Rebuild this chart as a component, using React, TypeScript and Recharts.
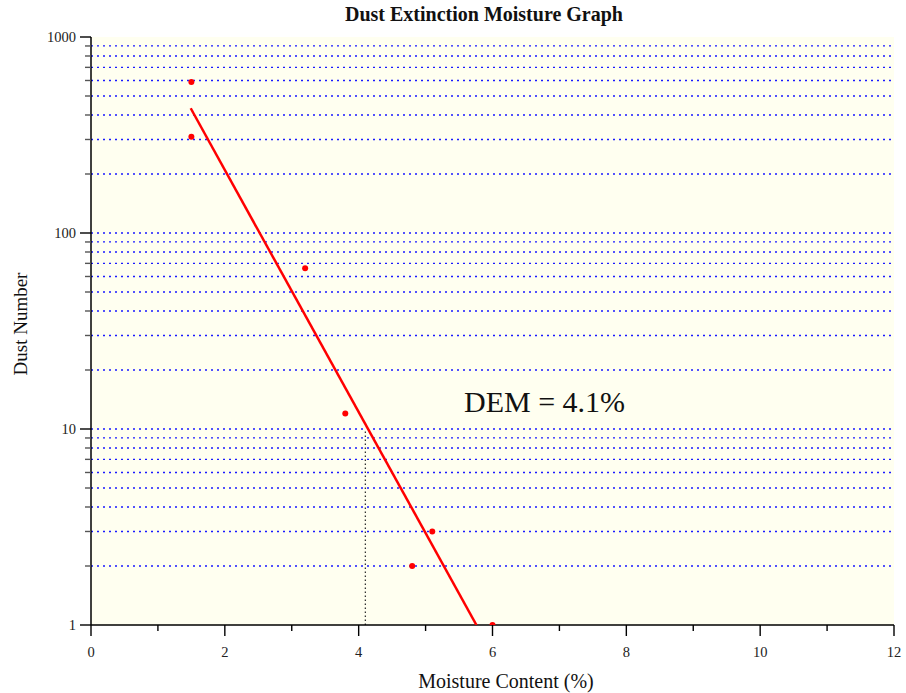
import React from 'react';
import {
  ScatterChart,
  Scatter,
  XAxis,
  YAxis,
  CartesianGrid,
  ReferenceLine,
} from 'recharts';

// ---- data ----
const moisture = [1.5, 1.5, 3.2, 3.8, 4.8, 5.1, 6.0];
const dustNumber = [590, 310, 66, 12, 2, 3, 1];
const fitMoisture = [1.49, 5.76];
const fitDust = [433, 1];
const demMoisture = 4.1;
const demDustRange = [1, 10];
const xTicks = [0, 1, 2, 3, 4, 5, 6, 7, 8, 9, 10, 11, 12];
const xMajorLabels = [0, 2, 4, 6, 8, 10, 12];
const yTicks = [
  1, 2, 3, 4, 5, 6, 7, 8, 9,
  10, 20, 30, 40, 50, 60, 70, 80, 90,
  100, 200, 300, 400, 500, 600, 700, 800, 900, 1000,
];
const yMajorLabels = [1, 10, 100, 1000];
const gridValues = yTicks.slice(1, yTicks.length - 1);

const points = moisture.map((m, i) => ({ x: m, y: dustNumber[i] }));
const fitLine = fitMoisture.map((m, i) => ({ x: m, y: fitDust[i] }));

const FONT = '"Liberation Serif", "Times New Roman", serif';
const MAJOR = 11;
const MINOR = 6;

const BottomTick = (props: any) => {
  const { x, y, payload } = props;
  const v = payload.value;
  const major = xMajorLabels.includes(v);
  const len = major ? MAJOR : MINOR;
  return (
    <g>
      <line x1={x} x2={x} y1={y} y2={y + len} stroke="#000" strokeWidth={1.4} />
      {major && (
        <text x={x} y={y + 32} textAnchor="middle" fontFamily={FONT} fontSize={14.5} fill="#222">
          {v}
        </text>
      )}
    </g>
  );
};

const TopTick = (props: any) => {
  const { x, y, payload } = props;
  const major = xMajorLabels.includes(payload.value);
  const len = major ? MAJOR - 1 : MINOR;
  return <line x1={x} x2={x} y1={y} y2={y - len} stroke="#000" strokeWidth={1.4} />;
};

const LeftTick = (props: any) => {
  const { x, y, payload } = props;
  const v = payload.value;
  const major = yMajorLabels.includes(v);
  const len = major ? MAJOR : MINOR;
  return (
    <g>
      <line x1={x} x2={x - len} y1={y} y2={y} stroke={major ? '#000' : '#555'} strokeWidth={1.4} />
      {major && (
        <text x={x - len - 4} y={y} dy="0.35em" textAnchor="end" fontFamily={FONT} fontSize={14.5} fill="#222">
          {v}
        </text>
      )}
    </g>
  );
};

const RightTick = (props: any) => {
  const { x, y, payload } = props;
  const major = yMajorLabels.includes(payload.value);
  const len = major ? MAJOR : MINOR;
  return <line x1={x} x2={x + len} y1={y} y2={y} stroke={major ? '#000' : '#555'} strokeWidth={1.4} />;
};

const NoShape = () => <g />;

export default function App() {
  return (
    <div style={{ position: 'absolute', left: 0, top: 0, width: 906, height: 693, background: '#fff' }}>
      <ScatterChart
        width={906}
        height={693}
        margin={{ top: 37, right: 12, bottom: 0, left: 0 }}
      >
        <CartesianGrid fill="#FFFFF0" horizontal={false} vertical={false} />
        {gridValues.map((g) => (
          <ReferenceLine
            key={g}
            xAxisId="bottom"
            yAxisId="left"
            y={g}
            stroke="#1a1aff"
            strokeWidth={1.3}
            strokeDasharray="2 4"
            ifOverflow="extendDomain"
          />
        ))}
        <XAxis
          xAxisId="bottom"
          dataKey="x"
          type="number"
          domain={[0, 12]}
          allowDataOverflow
          ticks={xTicks}
          interval={0}
          orientation="bottom"
          height={68}
          tickSize={0}
          tickMargin={0}
          tickLine={false}
          tick={<BottomTick />}
          axisLine={{ stroke: '#000', strokeWidth: 1.5 }}
        />
        <XAxis
          xAxisId="top"
          dataKey="x"
          type="number"
          domain={[0, 12]}
          allowDataOverflow
          ticks={xTicks}
          interval={0}
          orientation="top"
          height={0}
          tickSize={0}
          tickMargin={0}
          tickLine={false}
          tick={<TopTick />}
          axisLine={{ stroke: '#000', strokeWidth: 1.5 }}
        />
        <YAxis
          yAxisId="left"
          dataKey="y"
          type="number"
          scale="log"
          domain={[1, 1000]}
          allowDataOverflow
          ticks={yTicks}
          interval={0}
          orientation="left"
          width={91}
          tickSize={0}
          tickMargin={0}
          tickLine={false}
          tick={<LeftTick />}
          axisLine={{ stroke: '#000', strokeWidth: 1.5 }}
        />
        <YAxis
          yAxisId="right"
          dataKey="y"
          type="number"
          scale="log"
          domain={[1, 1000]}
          allowDataOverflow
          ticks={yTicks}
          interval={0}
          orientation="right"
          width={0}
          tickSize={0}
          tickMargin={0}
          tickLine={false}
          tick={<RightTick />}
          axisLine={{ stroke: '#000', strokeWidth: 1.5 }}
        />
        <ReferenceLine
          xAxisId="bottom"
          yAxisId="left"
          segment={[
            { x: demMoisture, y: demDustRange[0] },
            { x: demMoisture, y: demDustRange[1] },
          ]}
          stroke="#333"
          strokeWidth={1.3}
          strokeDasharray="1.5 2.5"
        />
        <Scatter
          xAxisId="bottom"
          yAxisId="left"
          data={fitLine}
          line={{ stroke: '#ff0000', strokeWidth: 2.5 }}
          shape={<NoShape />}
          isAnimationActive={false}
        />
        <Scatter
          xAxisId="bottom"
          yAxisId="left"
          data={points}
          fill="#ff0000"
          shape={(p: any) => <circle cx={p.cx} cy={p.cy} r={3} fill="#ff0000" />}
          isAnimationActive={false}
        />
        <Scatter xAxisId="top" yAxisId="right" data={points} shape={<NoShape />} isAnimationActive={false} />
      </ScatterChart>

      <div
        style={{
          position: 'absolute', left: 284, top: 4, width: 400, textAlign: 'center',
          fontFamily: FONT, fontWeight: 'bold', fontSize: 20, lineHeight: '20px', color: '#111',
        }}
      >
        Dust Extinction Moisture Graph
      </div>
      <div
        style={{
          position: 'absolute', left: 306, top: 671, width: 400, textAlign: 'center',
          fontFamily: FONT, fontSize: 20, lineHeight: '20px', color: '#111',
        }}
      >
        Moisture Content (%)
      </div>
      <div
        style={{
          position: 'absolute', left: -79, top: 312, width: 200, height: 24, textAlign: 'center',
          fontFamily: FONT, fontSize: 19, lineHeight: '24px', color: '#111',
          transform: 'rotate(-90deg)',
        }}
      >
        Dust Number
      </div>
      <div
        style={{
          position: 'absolute', left: 464, top: 387, whiteSpace: 'nowrap',
          fontFamily: FONT, fontSize: 30, lineHeight: '30px', color: '#111',
        }}
      >
        DEM = 4.1%
      </div>
    </div>
  );
}
